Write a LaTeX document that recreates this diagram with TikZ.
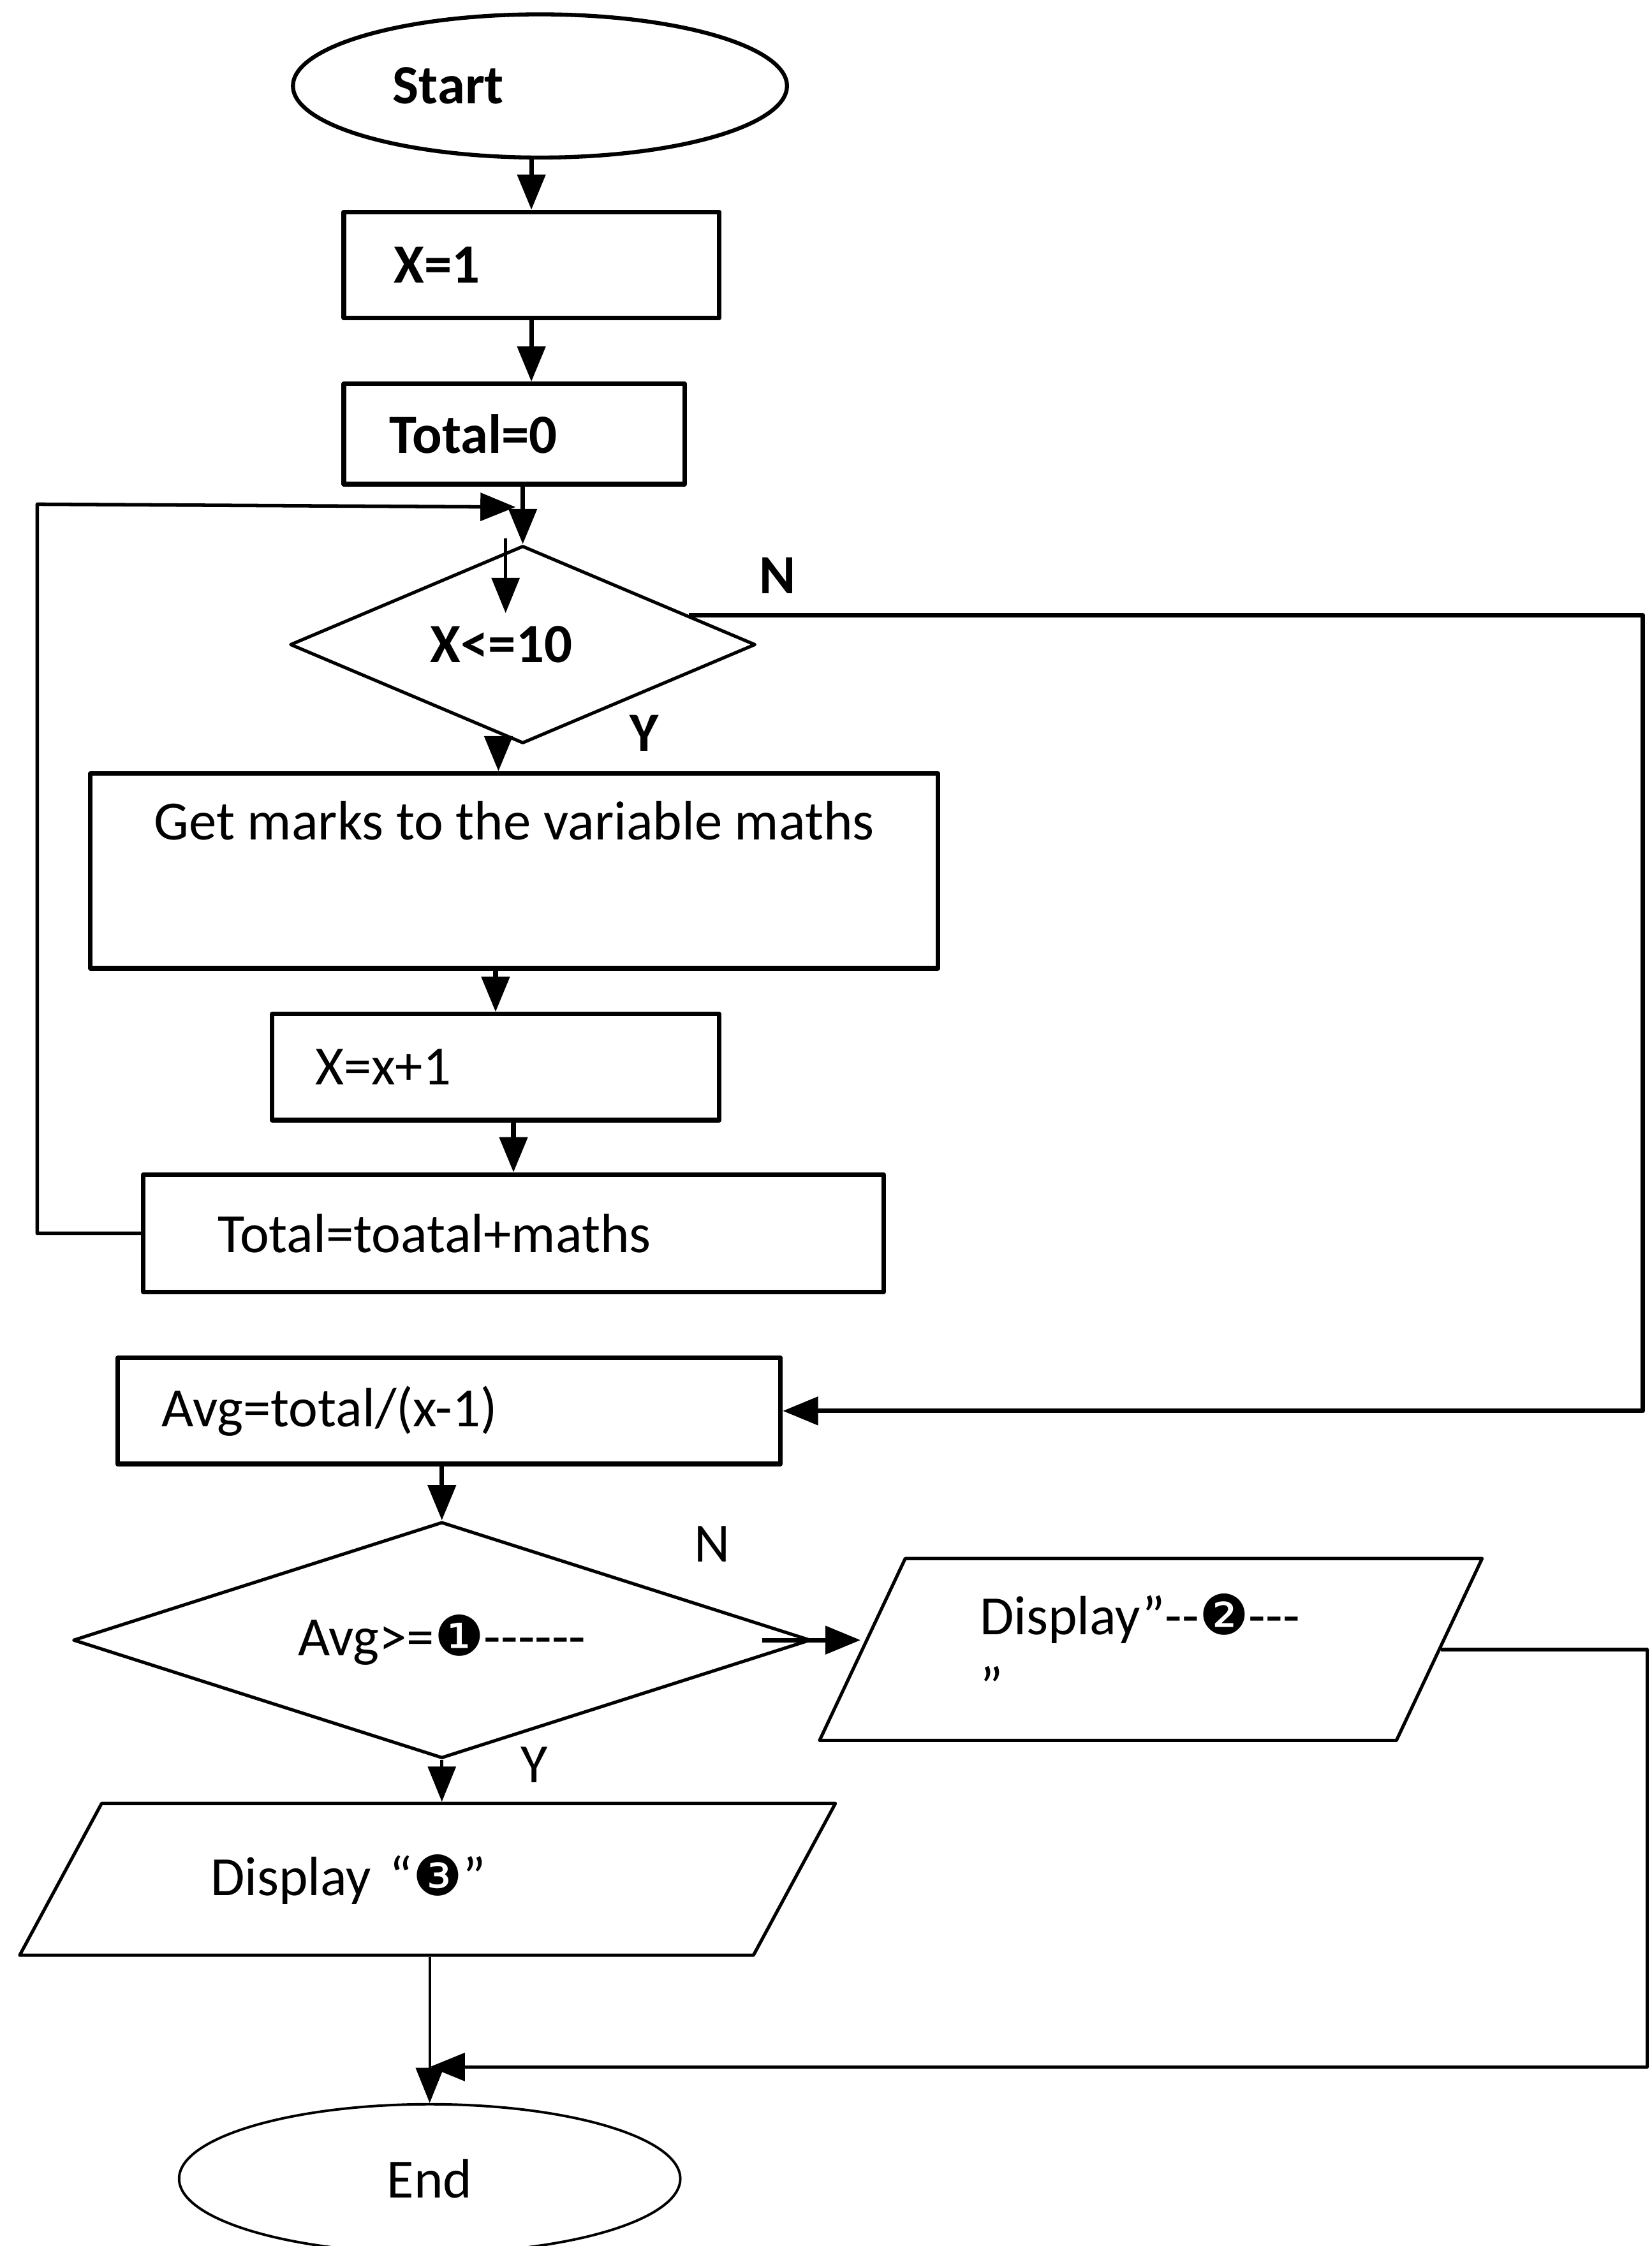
\documentclass[tikz,border=0pt]{standalone}
\usepackage{fontspec}
\setmainfont{Carlito}[Ligatures=TeXOff]
\newfontfamily\dingfont{DejaVu Sans}
\usetikzlibrary{shapes.geometric,arrows.meta}
\newcommand{\dnum}[1]{{\dingfont\fontsize{22}{26}\selectfont #1}}
\begin{document}
\begin{tikzpicture}[x=0.02cm, y=-0.02cm, font=\fontsize{22}{26}\selectfont, line join=round, >={Triangle[length=14pt,width=11pt]},
	proc/.style={draw, rectangle, line width=1.8pt, align=left, inner sep=0pt},
	term/.style={draw, ellipse, inner sep=0pt},
	dec/.style={draw, diamond, line width=1.3pt, inner sep=0pt},
	io/.style={draw, trapezium, trapezium stretches=true, line width=1.3pt, align=left, inner sep=0pt},
	flow/.style={->, line width=1.8pt},
	yn/.style={font=\fontsize{22}{26}\selectfont\bfseries}]
	\useasboundingbox (0,0) rectangle (1153,1568);
	\def\bf{\fontsize{22}{26}\selectfont\bfseries} % chu dam
	% vong lap
	\node[term, line width=1.6pt, minimum width=6.9cm, minimum height=2cm, label={[name=startt, xshift=-1.28cm, font=\bf]center:Start}] (start) at (377,60) {};
	\node[proc, font=\bf, minimum width=5.24cm, minimum height=1.48cm, text width=3.84cm] (x1) at (371,185) {X=1};
	\node[proc, font=\bf, minimum width=4.76cm, minimum height=1.4cm, text width=3.48cm] (tot0) at (359,303) {Total=0};
	\node[dec, aspect=2.36, minimum width=6.5cm, minimum height=2.76cm, label={[name=xchkt, xshift=-0.3cm, font=\bf]center:X<=10}] (xchk) at (365,450) {};
	\node[proc, align=center, minimum width=11.84cm, minimum height=2.72cm] (marks) at (359,608) {Get marks to the variable maths\\[14pt]\mbox{}};
	\node[proc, minimum width=6.24cm, minimum height=1.48cm, text width=5.04cm] (xinc) at (346,745) {X=x+1};
	\node[proc, minimum width=10.34cm, minimum height=1.64cm, text width=8.26cm] (totm) at (358.5,861) {Total=toatal+maths};
	% trung binh
	\node[proc, minimum width=9.26cm, minimum height=1.48cm, text width=8.02cm] (avg) at (313.5,985) {Avg=total/(x-1)};
	\node[dec, aspect=3.1, minimum width=10.3cm, minimum height=3.3cm] (avgd) at (308.5,1145) {Avg>=\dnum{❶}------};
	\node[io, trapezium left angle=61.8, trapezium right angle=118.2, minimum width=9.26cm, minimum height=2.54cm, text width=4.78cm] (disp2) at (803.5,1151.5) {Display”--\dnum{❷}---\\[2pt]”};
	\node[io, trapezium left angle=42.4, trapezium right angle=137.6, minimum width=11.42cm, minimum height=2.12cm, text width=6.06cm] (disp3) at (298.5,1312) {Display “\dnum{❸}”};
	\node[term, line width=1pt, minimum width=7cm, minimum height=2.08cm] (endn) at (300,1521) {End};
	\node[yn] (n1) at (543,402) {N};
	\node[yn] (y1) at (450,512) {Y};
	\node (n2) at (497,1078) {N};
	\node (y2) at (373,1232) {Y};
	\coordinate (lp) at (26,352); % goc vong lap
	\coordinate (join) at (360,354);
	\coordinate (jin) at (353,376);
	\coordinate (jout) at (353,428);
	\coordinate (nd) at (1147,985);
	\coordinate (ne) at (1150,1443);
	\coordinate (mrg) at (300,1443);
	\draw[flow] (start.south -| x1.north) -- (x1.north);
	\draw[flow] (x1.south) -- (x1.south |- tot0.north);
	\draw[flow] (tot0.south -| xchk.north) -- (xchk.north);
	\draw[flow, line width=1.4pt] (totm.west) -| (lp) -- (join);
	\draw[flow, line width=1.4pt] (jin) -- (jout);
	\draw[flow] ([xshift=-0.34cm]xchk.south) -- ([xshift=-0.34cm]xchk.south |- marks.north);
	\draw[flow] (marks.south -| xinc.north) -- (xinc.north);
	\draw[flow] (xinc.south -| totm.north) -- (totm.north);
	\draw[flow] (xchk.10) -| (nd) -- (avg.east);
	\draw[flow] (avg.south -| avgd.north) -- (avgd.north);
	\draw[flow] ([xshift=-0.7cm]avgd.east) -- (avgd.east -| disp2.west);
	\draw[flow, line width=1.3pt] (avgd.south) -- (avgd.south |- disp3.north);
	\draw[flow, line width=1pt] (disp3.south -| endn.north) -- (endn.north);
	\draw[flow, line width=1.4pt] (disp2.east) -| (ne) -- (mrg);
\end{tikzpicture}
\end{document}
